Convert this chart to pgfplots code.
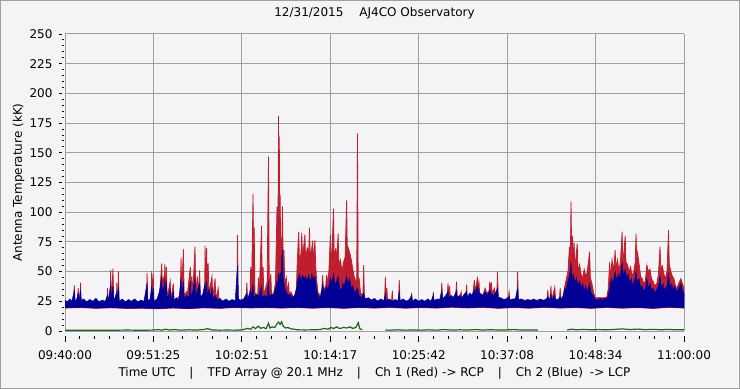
\documentclass[border=0pt]{standalone}
\usepackage{fontspec}
\setmainfont{DejaVu Sans}
\usepackage{pgfplots}
\pgfplotsset{compat=1.18}
\usetikzlibrary{calc}
\definecolor{bg}{HTML}{F4F4F6}
\definecolor{chred}{HTML}{BE1E2D}
\definecolor{chblue}{HTML}{000096}
\definecolor{chgreen}{HTML}{1E641E}
\definecolor{gridc}{HTML}{A0A0A0}
\begin{document}
\begin{tikzpicture}
\useasboundingbox (0,0) rectangle (740bp,389bp);
\fill[bg] (0,0) rectangle (740bp,389bp);
\draw[gridc, line width=1bp] (0.5bp,0.5bp) rectangle (739.5bp,388.5bp);
\begin{axis}[
  at={(65bp,58bp)}, anchor=south west,
  scale only axis, width=619bp, height=297bp,
  xmin=0, xmax=80, ymin=0, ymax=250,
  axis line style={draw=none},
  xtick={0,11.428571,22.857143,34.285714,45.714286,57.142857,68.571429,80},
  xticklabels={09:40:00,09:51:25,10:02:51,10:14:17,10:25:42,10:37:08,10:48:34,11:00:00},
  ytick={0,25,...,250},
  minor y tick num=4,
  xtick pos=bottom, ytick pos=left,
  tick align=outside,
  major tick length=11bp, minor tick length=8.5bp,
  every tick/.append style={black, line width=0.9bp},
  every major x tick/.append style={draw=none},
  every major y tick/.append style={dash pattern=on 0bp off 5bp on 2.7bp off 20bp},
  every minor y tick/.append style={dash pattern=on 0bp off 5bp on 2.4bp off 20bp},
  grid=major,
  major grid style={gridc, line width=1bp, solid},
  /pgf/number format/assume math mode=true,
  tick label style={font=\fontsize{12bp}{14bp}\selectfont},
  xticklabel style={anchor=base, yshift=-17bp},
  yticklabel style={anchor=east, xshift=2bp},
  title={12/31/2015\hspace{16bp}AJ4CO Observatory},
  title style={at={(axis description cs:0.5,1)}, anchor=base, yshift=11.5bp, font=\fontsize{12bp}{14bp}\selectfont},
  xlabel={Time UTC\hspace{14bp}|\hspace{14bp}TFD Array @ 20.1 MHz\hspace{14bp}|\hspace{14bp}Ch 1 (Red) -> RCP\hspace{14bp}|\hspace{14bp}Ch 2 (Blue)\hspace{7bp}-> LCP},
  xlabel style={at={(axis description cs:0.5,0)}, anchor=base, yshift=-45.5bp, font=\fontsize{12bp}{14bp}\selectfont},
  ylabel={Antenna Temperature (kK)},
  ylabel style={at={([xshift=-43bp]axis description cs:0,0.5)}, anchor=base, font=\fontsize{12bp}{14bp}\selectfont},
  unbounded coords=jump,
]
% Ch 1 (red): upper boundary then lower boundary
\addplot[fill=chred, draw=chred, line width=0.75bp] coordinates {
(0,24)(1.1,24)(1.2,38.7)(1.3,24)(1.6,24)(1.7,36)(1.8,24)(1.95,24)(2.0,40.7)(2.1,24)
(5.4,24)(5.5,36)(5.6,24)(5.85,24)(5.9,51.3)(6.0,25)(6.2,52.5)(6.3,24)(6.65,24)(6.7,40.7)(6.8,24)(6.85,24)(6.9,50)(7.0,24)
(10.55,24)(10.6,49)(10.7,24)(11.15,24)(11.2,50.5)(11.3,26)(11.4,48)(11.5,24)
(12.2,28)(12.5,57)(12.6,32)(12.7,46)(12.8,30)(12.9,56)(13.0,32)(13.1,54)(13.2,28)(13.6,42)(13.7,26)(14.0,40)(14.1,25)
(14.9,30)(15.0,61.7)(15.1,32)(15.3,68.8)(15.4,30)(15.7,33)(15.8,30)(16.2,54)(16.3,30)(16.4,46)(16.5,30)(16.8,71)(16.9,32)
(17.1,46)(17.2,30)(17.4,51)(17.5,29)(18.05,30)(18.1,71.6)(18.2,40)(18.3,69.7)(18.4,34)(18.5,57)(18.6,32)(19.0,46)(19.1,28)
(19.4,44)(19.5,26)(19.8,36)(19.9,25)(22.2,25)(22.3,80.8)(22.4,25)(23.4,25)(23.5,40.7)(23.6,26)(23.9,28)(24.0,54)(24.1,30)
(24.3,115.3)(24.4,40)(24.45,87)(24.55,32)(24.9,30)(25.0,45)(25.1,30)(25.4,88.4)(25.5,34)(25.6,54)(25.7,30)(26.0,38)(26.1,28)
(26.3,146.7)(26.4,35)(26.6,48)(26.7,29)(27.0,33)(27.2,40)(27.4,104.6)(27.5,60)(27.6,181)(27.65,100)(27.7,163.6)(27.75,70)
(27.8,115)(27.9,60)(28.0,70)(28.1,105)(28.2,60)(28.3,68)(28.4,40)(28.6,45)(28.7,34)(28.9,40)(29.0,30)(29.2,33)(29.4,30)
(29.6,28)(29.9,35)(30.0,55)(30.1,70)(30.2,83.6)(30.3,60)(30.5,65)(30.6,82.8)(30.7,62)(30.9,74)(31.0,81)(31.1,60)(31.3,70)
(31.5,66)(31.6,87)(31.7,62)(31.9,70)(32.0,76)(32.1,58)(32.3,76.5)(32.4,55)(32.5,45)(32.7,32)(33.0,30)(33.2,35)(33.3,47)
(33.4,34)(33.7,38)(33.8,47)(33.9,40)(34.1,50)(34.3,80.8)(34.4,58)(34.5,65)(34.7,103)(34.8,60)(35.0,70)(35.1,58)(35.3,82)
(35.4,55)(35.6,60)(35.8,50)(36.0,58)(36.2,62)(36.4,110)(36.5,60)(36.6,70)(36.8,66)(37.0,60)(37.2,52)(37.4,45)(37.6,42)
(37.7,40)(37.8,166.4)(37.9,36)(38.0,45)(38.2,32)(38.5,30)(38.6,55.5)(38.7,28)(39.0,26)(41.3,25)(41.4,45.7)(41.5,25)
(41.6,36)(41.7,25)(42.2,25)(42.3,34)(42.4,25)(43.1,25)(43.2,43)(43.3,25)(44.7,25)(44.8,32)(44.9,25)(47.5,25)(47.6,33)
(47.7,25)(48.6,27)(48.7,40.7)(48.8,27)(49.4,29)(49.5,40)(49.6,28)(49.7,38)(49.8,28)(50.5,29)(50.6,41.5)(50.7,28)(51.1,30)
(51.2,33)(51.3,28)(51.8,30)(51.9,39)(52.0,28)(52.7,30)(52.9,43)(53.0,34)(53.2,40)(53.3,45.7)(53.4,36)(53.5,41)(53.6,32)
(54.0,30)(54.3,36)(54.5,32)(54.8,33)(54.9,41.5)(55.0,35)(55.1,41)(55.2,32)(55.5,36)(55.6,32)(55.8,30)(55.9,50)(56.0,28)
(56.4,26)(57.3,27)(57.4,33)(57.5,26)(58.4,27)(58.5,50)(58.6,26)(59.5,26)(60.5,26)(62.3,26)(62.4,34.6)(62.5,26)(62.7,27)
(62.8,38)(62.9,26)(63.3,37)(63.4,26)(63.9,27)(64.0,36)(64.1,26)(64.4,30)(64.6,38)(64.9,47)(65.0,50)(65.2,71)(65.3,55)
(65.4,108.8)(65.5,60)(65.6,80)(65.7,55)(65.8,74)(65.9,52)(66.0,60)(66.2,73.5)(66.3,50)(66.5,56)(66.7,48)(66.9,44)(67.1,52)
(67.3,46)(67.5,50)(67.8,66.8)(67.9,45)(68.1,40)(68.3,33)(68.5,28)(70.0,28)(70.2,35)(70.4,58)(70.5,45)(70.7,60)(70.9,50)
(71.1,68)(71.2,52)(71.4,60)(71.6,50)(71.8,60)(72.0,83.6)(72.1,55)(72.2,64)(72.4,80)(72.5,58)(72.7,56)(72.9,50)(73.1,54)
(73.3,46)(73.5,50)(73.7,58)(73.8,82)(73.9,60)(74.0,66)(74.2,56)(74.4,46)(74.6,44)(74.8,40)(75.0,42)(75.2,55.5)(75.4,50)
(75.6,52)(75.8,44)(76.0,42)(76.2,38)(76.5,40)(76.7,48)(76.9,71)(77.0,52)(77.2,55)(77.4,48)(77.6,44)(77.8,50)(78.0,85)
(78.1,56)(78.3,50)(78.5,46)(78.7,44)(78.9,38)(79.1,36)(79.3,40)(79.6,44)(79.8,40)(80.0,36)
(80,19.3)(78,19.9)(76,19.0)(74,19.7)(72,19.2)(70,19.8)(68,19.1)(66,19.7)(64,19.3)(62,19.9)(60,19.2)(58,19.7)(56,19.1)(54,19.9)
(52,19.4)(50,20.0)(48,19.3)(46,19.7)(44,19.2)(42,19.8)(40,19.3)(38,19.7)(36,19.1)(34,19.7)(32,19.2)(30,19.7)(28,19.3)(26,19.7)
(24,19.4)(22,19.7)(20,19.1)(18,19.5)(16,18.8)(14,19.3)(12,18.7)(10,19.1)(8,19.0)(6,19.5)(4,19.1)(2,19.7)(0,19.3)
};
% Ch 2 (blue): upper boundary then lower boundary
\addplot[fill=chblue, draw=chblue, line width=0.5bp] coordinates {
(0,26)(0.3,24.5)(0.6,27)(0.9,25)(1.2,34)(1.3,25)(1.5,26.5)(1.7,32)(1.8,25)(2.0,35)(2.1,25.5)(2.4,27)(2.8,24.5)(3.2,26.5)
(3.6,25)(4.0,27.5)(4.4,24.5)(4.8,26)(5.2,25)(5.5,30)(5.6,25)(5.9,40)(6.0,26)(6.2,38)(6.3,25)(6.7,33)(6.8,25)(6.9,38)(7.0,25)
(7.4,27)(7.8,24.5)(8.2,26.5)(8.6,25)(9.0,27)(9.4,24.5)(9.8,26)(10.2,25)(10.6,40)(10.7,25.5)(11.0,27)(11.2,38)(11.3,26)
(11.4,36)(11.5,25)(11.9,27)(12.2,33)(12.5,45)(12.6,30)(12.7,37)(12.8,28)(12.9,44)(13.0,30)(13.1,42)(13.2,27)(13.4,30)
(13.6,35)(13.7,26)(14.0,33)(14.1,26)(14.4,28)(14.7,25)(15.0,45)(15.1,28)(15.3,42)(15.4,27)(15.7,30)(16.0,28)(16.2,42)
(16.3,29)(16.5,33)(16.8,44)(16.9,29)(17.1,34)(17.4,40)(17.5,28)(17.8,31)(18.1,40)(18.2,30)(18.3,42)(18.4,29)(18.6,35)
(18.8,29)(19.0,36)(19.1,27)(19.4,30)(19.7,26)(20.0,27.5)(20.4,25)(20.8,27)(21.2,25)(21.6,26.5)(22.0,25.5)(22.3,55)(22.4,27)
(22.7,26)(23.1,27)(23.5,32)(23.6,26.5)(24.0,35)(24.1,27)(24.3,40)(24.4,28)(24.7,31)(25.0,29)(25.4,38)(25.5,28)(25.8,30)
(26.1,28)(26.3,42)(26.4,29)(26.7,31)(27.0,30)(27.2,36)(27.4,42)(27.5,33)(27.6,48)(27.7,38)(27.8,50)(27.9,40)(28.0,60)
(28.1,68.8)(28.2,45)(28.4,36)(28.6,33)(28.8,30)(29.1,31)(29.4,28)(29.7,30)(30.0,38)(30.1,44)(30.3,48)(30.5,42)(30.7,47)
(30.9,44)(31.1,46)(31.3,42)(31.5,47)(31.7,40)(31.9,48)(32.1,43)(32.3,46)(32.5,36)(32.7,30)(32.9,28)(33.1,30)(33.3,40)
(33.5,32)(33.8,38)(34.0,34)(34.3,45)(34.5,40)(34.7,48)(34.9,38)(35.1,42)(35.3,46)(35.5,36)(35.7,34)(35.9,40)(36.1,38)
(36.4,46)(36.6,40)(36.8,44)(37.0,36)(37.2,38)(37.4,32)(37.6,34)(37.8,36)(38.0,30)(38.3,28)(38.6,32)(38.8,27)(39.2,28)
(39.6,26)(40.0,27.5)(40.4,25)(40.8,27)(41.2,25.5)(41.4,31)(41.5,25.5)(41.9,27)(42.3,25)(42.7,26.5)(43.0,25)(43.2,33)
(43.3,25.5)(43.7,27)(44.1,25)(44.5,26.5)(44.8,30)(44.9,25)(45.3,27)(45.7,25)(46.1,26.5)(46.5,25)(46.9,27)(47.3,25)
(47.6,30)(47.7,25.5)(48.1,27)(48.4,26)(48.7,34)(48.8,27)(49.1,29)(49.5,33)(49.6,28)(49.9,30)(50.2,28)(50.6,34)(50.7,28)
(51.0,30)(51.3,28)(51.6,31)(51.9,33)(52.0,28)(52.3,32)(52.6,30)(52.9,35)(53.1,33)(53.3,38)(53.5,33)(53.7,31)(54.0,30)
(54.3,33)(54.6,30)(54.9,35)(55.1,31)(55.4,30)(55.7,33)(55.9,36)(56.0,28)(56.3,28)(56.7,26.5)(57.0,27)(57.4,29)(57.5,26)
(57.9,27)(58.2,27)(58.5,36)(58.6,26.5)(59.0,27)(59.4,25)(59.8,26.5)(60.2,25.5)(60.6,27)(61.0,25)(61.4,27)(61.8,25.5)
(62.2,27)(62.4,29)(62.6,26)(62.8,31)(62.9,26)(63.3,30)(63.4,26)(63.8,27)(64.0,29)(64.2,26)(64.4,30)(64.6,36)(64.8,34)
(64.9,40)(65.1,44)(65.3,50)(65.4,57)(65.5,44)(65.7,48)(65.9,40)(66.1,45)(66.3,38)(66.5,42)(66.7,36)(66.9,40)(67.1,34)
(67.3,38)(67.5,33)(67.8,40)(68.0,32)(68.3,30)(68.5,27)(68.8,26)(69.2,27.5)(69.5,26)(69.8,28)(70.1,27)(70.4,36)(70.6,44)
(70.8,40)(71.1,50)(71.3,42)(71.5,48)(71.7,44)(72.0,57)(72.2,46)(72.4,52)(72.6,44)(72.8,48)(73.0,40)(73.2,44)(73.4,38)
(73.6,42)(73.8,50)(74.0,40)(74.2,44)(74.4,36)(74.6,38)(74.8,33)(75.0,36)(75.2,44)(75.4,36)(75.6,40)(75.8,34)(76.0,36)
(76.2,32)(76.5,35)(76.7,38)(76.9,46)(77.1,36)(77.3,40)(77.5,34)(77.8,38)(78.0,48)(78.2,36)(78.4,40)(78.6,34)(78.8,38)
(79.0,33)(79.3,36)(79.6,40)(79.8,34)(80.0,32)
(80,19.5)(78,20.2)(76,19.2)(74,20)(72,19.4)(70,20.1)(68,19.3)(66,20)(64,19.5)(62,20.2)(60,19.4)(58,20)(56,19.3)(54,20.2)
(52,19.6)(50,20.3)(48,19.5)(46,20)(44,19.4)(42,20.1)(40,19.5)(38,20)(36,19.3)(34,20)(32,19.4)(30,20)(28,19.5)(26,20)
(24,19.6)(22,20)(20,19.3)(18,19.8)(16,19)(14,19.6)(12,18.9)(10,19.4)(8,19.2)(6,19.8)(4,19.3)(2,20)(0,19.5)
};
% difference channel (green)
\addplot[chgreen, line width=1.2bp] coordinates {
(0,0.6)(3,0.7)(6,0.6)(8,0.8)(10,0.6)(11.5,0.8)(12,1.2)(12.5,0.7)(13,1.5)(13.5,0.8)(14,1.2)(15,0.7)(16,1.0)(17,0.8)
(18,1.3)(18.4,2.0)(19,0.9)(20,0.7)(21,0.8)(22,0.7)(23,1.0)(23.5,2.2)(24,1.5)(24.3,3.5)(24.6,2.0)(25,4.0)(25.3,2.2)
(25.6,3.0)(26,2.0)(26.3,6.5)(26.5,2.5)(26.8,3.5)(27.1,2.8)(27.4,6.0)(27.6,7.5)(27.8,5.5)(28.0,7.8)(28.2,4.0)(28.5,2.5)
(28.8,3.0)(29.2,1.8)(29.6,1.5)(30,1.0)(31,0.9)(32,1.0)(33,1.2)(33.5,2.2)(34,1.5)(34.4,3.0)(34.7,2.0)(35.1,3.5)(35.5,2.0)
(36,3.0)(36.4,2.5)(36.8,3.5)(37.2,2.2)(37.6,3.0)(37.9,7.0)(38.1,2.0)(38.4,1.0)(39,nan)
(41.4,0.8)(42,0.7)(43,1.0)(44,0.7)(45,0.9)(46,0.7)(47,1.0)(48,0.7)(49,1.2)(50,0.8)(51,1.0)(52,0.8)(53,1.2)(54,0.8)
(55,1.1)(56,0.8)(57,0.9)(58,1.2)(59,0.8)(60,0.9)(61.1,0.8)(62,nan)
(64.9,0.9)(65.5,1.5)(66,1.0)(67,1.3)(68,1.0)(69,1.2)(70,1.0)(71,1.3)(72,1.8)(73,1.2)(74,1.6)(75,1.1)(76,1.4)(77,1.0)
(78,1.3)(79,1.0)(80,1.1)
};
\coordinate (xa) at (rel axis cs:0,0);
\coordinate (xb) at (rel axis cs:1,0);
\end{axis}
% x-axis tick marks (5 minor between majors), set below the plot area
\foreach \i in {0,...,42} {
  \pgfmathtruncatemacro\m{mod(\i,6)}
  \ifnum\m=0
    \draw[black, line width=0.9bp] ($(xa)!\i/42!(xb)+(0,-5.5bp)$) -- ++(0,-5.5bp);
  \else
    \draw[black, line width=0.9bp] ($(xa)!\i/42!(xb)+(0,-5.5bp)$) -- ++(0,-3bp);
  \fi
}
\end{tikzpicture}
\end{document}
